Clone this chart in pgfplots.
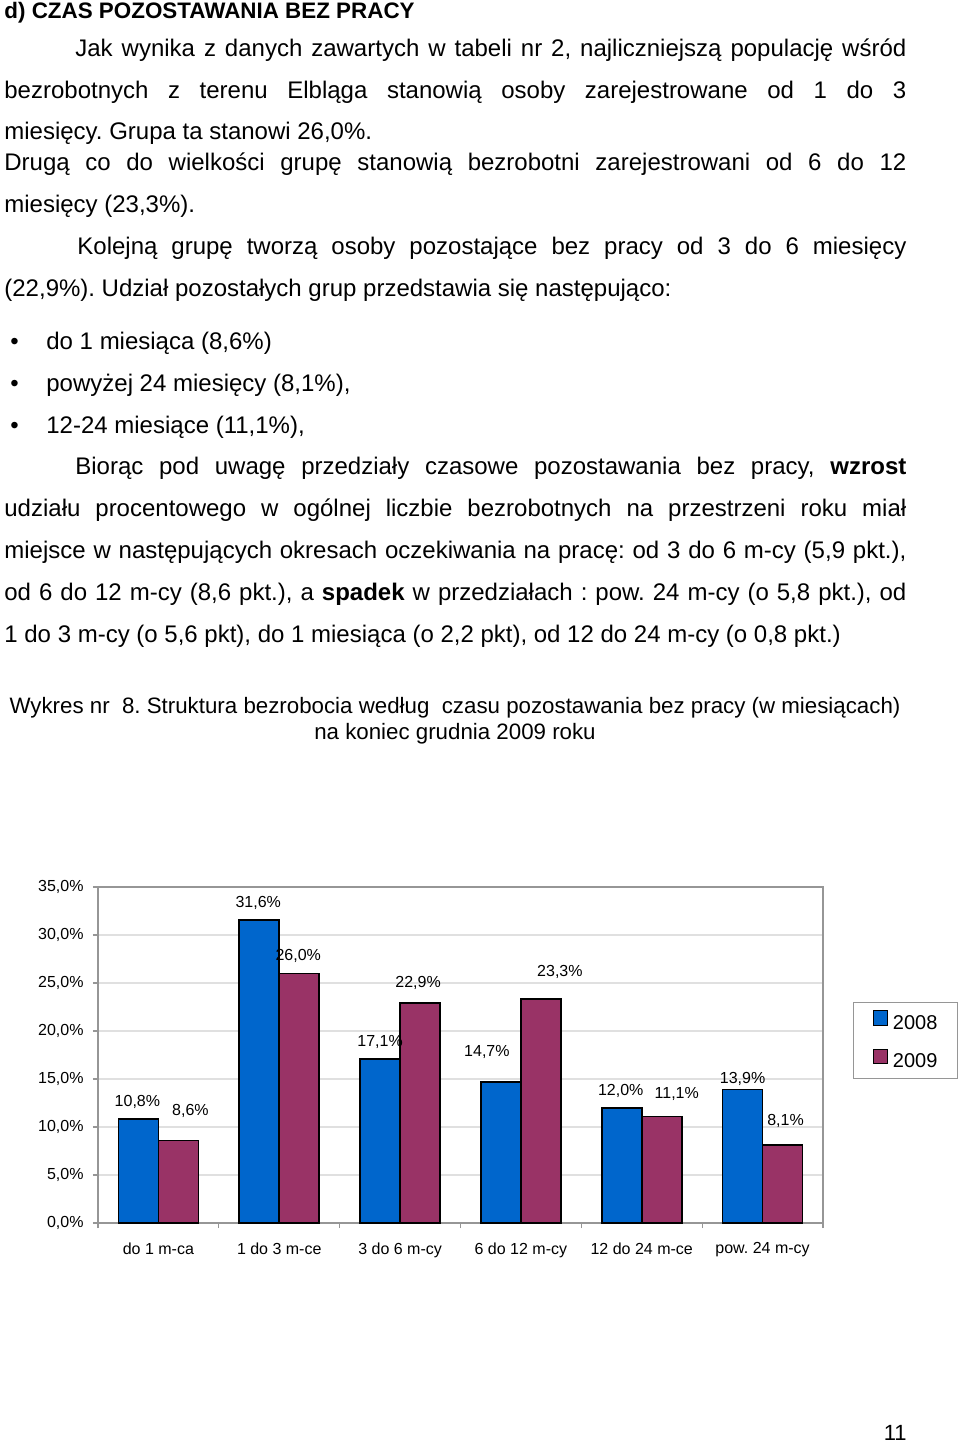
\documentclass[border=0pt]{standalone}
\usepackage{fontspec}
\setmainfont{Liberation Sans}
\usepackage{pgfplots}
\usepackage{pgfplotstable}
\pgfplotsset{compat=1.18}
\definecolor{bblue}{RGB}{0,102,204}
\definecolor{bpurple}{RGB}{153,51,102}
\definecolor{gridgray}{RGB}{224,224,224}
\definecolor{axisgray}{RGB}{150,150,150}
\frenchspacing

\pgfplotstableread{
x y
0 10.8
1 31.6
2 17.1
3 14.7
4 12.0
5 13.9
}\tabA
\pgfplotstableread{
x y
0 8.6
1 26.0
2 22.9
3 23.3
4 11.1
5 8.1
}\tabB
% label offsets in pixels (dx right, dy up from bar top), per category
\def\dxA{{-1,-1,0,-14,-1,0}}
\def\dyA{{17,17,17,30,17,11}}
\def\dxB{{12,-1,-2,19,15,3}}
\def\dyB{{30,17,20,27,22,24}}

\begin{document}
\begin{tikzpicture}
\path[use as bounding box] (0pt,0pt) rectangle (480pt,-721pt);
\begin{scope}[x=0.5pt,y=-0.5pt]
\tikzset{txt/.style={anchor=base west, inner sep=0pt, font=\fontsize{12}{14}\selectfont}}
\node[txt, font=\fontsize{11.2}{13}\selectfont\bfseries] at (4,18) {d) CZAS POZOSTAWANIA BEZ PRACY};
\node[txt] at (75,56) {\makebox[415.5pt][s]{Jak wynika z danych zawartych w tabeli nr 2, najliczniejszą populację wśród}};
\node[txt] at (4,98) {\makebox[451pt][s]{bezrobotnych z terenu Elbląga stanowią osoby zarejestrowane od 1 do 3}};
\node[txt] at (4,139) {miesięcy. Grupa ta stanowi 26,0\%.};
\node[txt] at (4,170) {\makebox[451pt][s]{Drugą co do wielkości grupę stanowią bezrobotni zarejestrowani od 6 do 12}};
\node[txt] at (4,212) {miesięcy (23,3\%).};
\node[txt] at (77,254) {\makebox[414.5pt][s]{Kolejną grupę tworzą osoby pozostające bez pracy od 3 do 6 miesięcy}};
\node[txt] at (4,296) {(22,9\%). Udział pozostałych grup przedstawia się następująco:};
\node[txt] at (10,349) {•};
\node[txt] at (46,349) {do 1 miesiąca (8,6\%)};
\node[txt] at (10,391) {•};
\node[txt] at (46,391) {powyżej 24 miesięcy (8,1\%),};
\node[txt] at (10,433) {•};
\node[txt] at (46,433) {12-24 miesiące (11,1\%),};
\node[txt] at (75,474) {\makebox[415.5pt][s]{Biorąc pod uwagę przedziały czasowe pozostawania bez pracy, \textbf{wzrost}}};
\node[txt] at (4,516) {\makebox[451pt][s]{udziału procentowego w ogólnej liczbie bezrobotnych na przestrzeni roku miał}};
\node[txt] at (4,558) {\makebox[451pt][s]{miejsce w następujących okresach oczekiwania na pracę: od 3 do 6 m-cy (5,9 pkt.),}};
\node[txt] at (4,600) {\makebox[451pt][s]{od 6 do 12 m-cy (8,6 pkt.), a \textbf{spadek} w przedziałach : pow. 24 m-cy (o 5,8 pkt.), od}};
\node[txt] at (4,642) {1 do 3 m-cy (o 5,6 pkt), do 1 miesiąca (o 2,2 pkt), od 12 do 24 m-cy (o 0,8 pkt.)};
\node[txt, anchor=base, font=\fontsize{11.15}{13}\selectfont] at (455,713) {Wykres nr~ 8. Struktura bezrobocia według~ czasu pozostawania bez pracy (w miesiącach)};
\node[txt, anchor=base, font=\fontsize{11.15}{13}\selectfont] at (455,739) {na koniec grudnia 2009 roku};
\node[txt, anchor=base east, font=\fontsize{11}{13}\selectfont] at (907,1440) {11};
\end{scope}

\begin{axis}[
  at={(49pt,-611.5pt)}, anchor=south west,
  width=362.5pt, height=168pt, scale only axis,
  xmin=-0.5, xmax=5.5, ymin=0, ymax=35,
  ybar=0pt, bar width=20pt,
  xtick={0,...,5},
  xticklabels={do 1 m-ca,1 do 3 m-ce,3 do 6 m-cy,6 do 12 m-cy,12 do 24 m-ce,pow. 24 m-cy},
  minor xtick={-0.5,0.5,...,5.5},
  ytick={0,5,...,35},
  yticklabels={{0,0\%},{5,0\%},{10,0\%},{15,0\%},{20,0\%},{25,0\%},{30,0\%},{35,0\%}},
  ymajorgrids, grid style={draw=gridgray, line width=0.6pt},
  axis line style={draw=axisgray, line width=0.6pt},
  tick align=outside, tick pos=left,
  major tick length=2.5pt, minor tick length=2.5pt,
  tick style={draw=axisgray, line width=0.6pt},
  major x tick style={draw=none},
  ticklabel style={font=\fontsize{8}{9.5}\selectfont, text=black},
  x tick label style={yshift=-3.8pt},
  y tick label style={xshift=-1.2pt},
  /pgf/number format/assume math mode=true,
  legend style={at={(1,0.658)}, anchor=north west, xshift=15pt, draw=axisgray,
     font=\fontsize{10}{12}\selectfont, inner xsep=10pt, inner ysep=4pt,
     row sep=8pt, column sep=2.5pt, nodes={inner sep=0pt}},
  legend cell align=left,
  nodes near coords={\pgfmathprintnumber[fixed,fixed zerofill,precision=1,use comma]{\pgfplotspointmeta}\%},
  point meta=y,
  visualization depends on={x \as \myx},
]
\addlegendimage{legend image code/.code={\draw[fill=bblue,draw=black,line width=0.5pt] (0pt,-0.6pt) rectangle (6.8pt,6.6pt);}}
\addlegendentry{2008}
\addlegendimage{legend image code/.code={\draw[fill=bpurple,draw=black,line width=0.5pt] (0pt,-0.6pt) rectangle (6.8pt,6.6pt);}}
\addlegendentry{2009}
\addplot[fill=bblue, draw=black, line width=0.9pt, forget plot, bar shift=-10pt,
  every node near coord/.append style={anchor=center, inner sep=0pt, text=black,
     font=\fontsize{8}{9.5}\selectfont, xshift={\dxA[int(round(\myx))]*0.5pt}, yshift={\dyA[int(round(\myx))]*0.5pt}}]
  table[x=x,y=y] {\tabA};
\addplot[fill=bpurple, draw=black, line width=0.9pt, forget plot, bar shift=10pt,
  every node near coord/.append style={anchor=center, inner sep=0pt, text=black,
     font=\fontsize{8}{9.5}\selectfont, xshift={\dxB[int(round(\myx))]*0.5pt}, yshift={\dyB[int(round(\myx))]*0.5pt}}]
  table[x=x,y=y] {\tabB};
\end{axis}
\end{tikzpicture}
\end{document}
